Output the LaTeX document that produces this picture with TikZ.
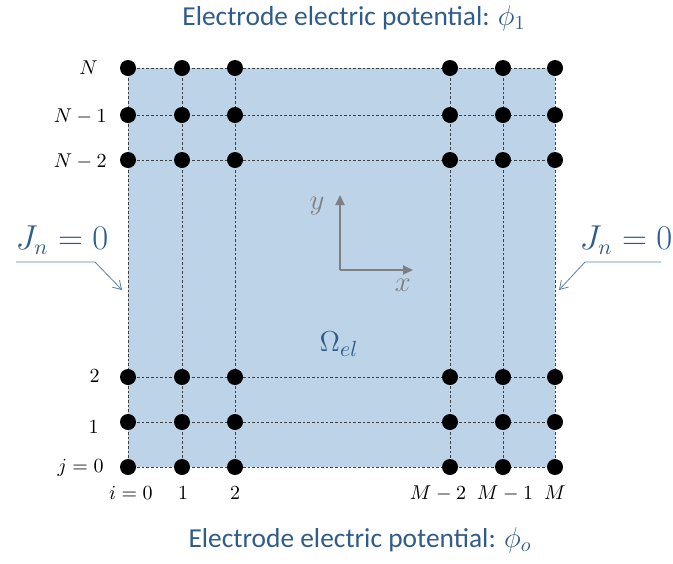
\documentclass[tikz,border=0pt]{standalone}
\usepackage{fontspec}
\setmainfont{Carlito}
\usetikzlibrary{arrows.meta}

\definecolor{elblue}{HTML}{BDD3E8}
\definecolor{txtblue}{HTML}{2F5C8A}
\definecolor{axgray}{HTML}{7F7F7F}
\definecolor{callout}{HTML}{5B7FA6}

\begin{document}
\begin{tikzpicture}[x=0.5pt, y=-0.5pt,
    dot/.style={circle, fill=black, inner sep=0pt, minimum size=8pt},
    gridline/.style={draw=black!75, line width=0.35pt, dash pattern=on 1.3pt off 1pt},
    rowlab/.style={anchor=east, inner sep=0pt, font=\fontsize{10}{11}\selectfont},
    collab/.style={inner sep=0pt, font=\fontsize{10}{11}\selectfont},
    bctext/.style={text=txtblue, inner sep=0pt, font=\fontsize{16}{18}\selectfont},
    title/.style={text=txtblue, inner sep=0pt, font=\fontsize{13.7}{16}\selectfont},
    axis/.style={draw=axgray, line width=1pt, -{Triangle[length=5pt, width=4.5pt]}},
    pointer/.style={draw=callout, line width=0.4pt, -{Straight Barb[length=4pt, width=5pt]}}]

    \useasboundingbox (0,0) rectangle (673,563);

    % Puntos de la malla
    \foreach \c/\xc in {0/128,1/182,2/235,3/450,4/503,5/555}
        \foreach \r/\yr in {0/467,1/422,2/377,3/160,4/115,5/68}
            \coordinate (p\c\r) at (\xc,\yr);

    % Dominio del electrodo
    \fill[elblue] (p00) rectangle (p55);

    % Lineas de la malla
    \foreach \c in {0,...,5}
        \draw[gridline] (p\c0) -- (p\c5);
    \foreach \r in {0,...,5}
        \draw[gridline] (p0\r) -- (p5\r);

    % Nodos
    \foreach \c in {0,...,5}
        \foreach \r in {0,...,5}
            \node[dot] (d\c\r) at (p\c\r) {};

    % Indices j
    \node[rowlab] (jN)  at (98,68)   {$N$};
    \node[rowlab] (jN1) at (107,116) {$N-1$};
    \node[rowlab] (jN2) at (107,161) {$N-2$};
    \node[rowlab] (j2)  at (100,376) {$2$};
    \node[rowlab] (j1)  at (99,427)  {$1$};
    \node[rowlab] (j0)  at (104,468) {$j=0$};

    % Indices i
    \node[collab] (i0)  at (131,493) {$i=0$};
    \node[collab] (i1)  at (183,493) {$1$};
    \node[collab] (i2)  at (235,493) {$2$};
    \node[collab] (iM2) at (438,493) {$M-2$};
    \node[collab] (iM1) at (505,493) {$M-1$};
    \node[collab] (iM)  at (555,493) {$M$};

    % Ejes
    \coordinate (o) at (340,270);
    \coordinate (ytip) at (340,195);
    \coordinate (xtip) at (413,270);
    \draw[axis] (o) -- (ytip);
    \draw[axis] (o) -- (xtip);
    \node[text=axgray, font=\fontsize{15}{16}\selectfont] (ylab) at (317,206) {$y$};
    \node[text=axgray, font=\fontsize{15}{16}\selectfont] (xlab) at (403,285) {$x$};

    % Dominio
    \node[text=txtblue, font=\fontsize{15}{17}\selectfont] (omega) at (339,344) {$\Omega_{el}$};

    % Condiciones de contorno
    \node[title] (top) at (354,18) {Electrode electric potential: $\phi_1$};
    \node[title] (bot) at (360,540) {Electrode electric potential: $\phi_o$};

    \node[bctext] (jl) at (62,240) {$J_n=0$};
    \node[bctext] (jr) at (626,240) {$J_n=0$};
    \coordinate (al) at (122,290);
    \coordinate (ar) at (559,290);
    \draw[pointer] (16,262) -- (95,262) -- (al);
    \draw[pointer] (661,262) -- (585,262) -- (ar);

\end{tikzpicture}
\end{document}
